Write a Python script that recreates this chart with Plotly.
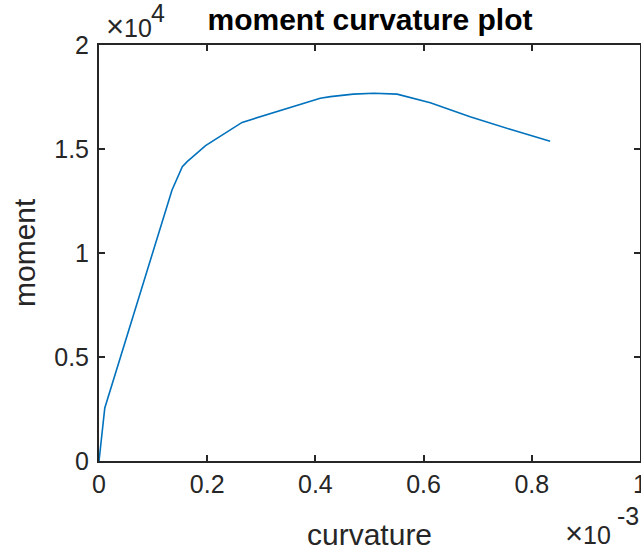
import plotly.graph_objects as go

# data
curvature = [0, 0.0000107, 0.000135, 0.000154, 0.000163, 0.000197, 0.0002645, 0.000409,
             0.000428, 0.00047, 0.000508, 0.000551, 0.0006125, 0.000686, 0.00076, 0.000834]
moment = [0, 2550, 13030, 14150, 14390, 15160, 16280, 17440,
          17520, 17640, 17680, 17640, 17220, 16550, 15950, 15370]

x_tickvals = [0, 0.0002, 0.0004, 0.0006, 0.0008, 0.001]
x_ticktext = ["0", "0.2", "0.4", "0.6", "0.8", "1"]
y_tickvals = [0, 5000, 10000, 15000, 20000]
y_ticktext = ["0", "0.5", "1", "1.5", "2"]

FONT = "Liberation Sans, Arial, Helvetica, sans-serif"
AX = "#262626"

W, H = 641, 550
PX0, PX1, PY0, PY1 = 99, 640, 45, 461
L, R, T, B = PX0, W - PX1, PY0, H - PY1
PW, PH = PX1 - PX0, PY1 - PY0


def px(sx):
    return (sx - PX0) / PW


def py(sy):
    return (PY1 - sy) / PH


fig = go.Figure()
fig.add_trace(go.Scatter(x=curvature, y=moment, mode="lines",
                         line=dict(color="#0072BD", width=1.6), showlegend=False,
                         hoverinfo="skip"))

axis_common = dict(showgrid=False, zeroline=False, showline=True, linecolor=AX, linewidth=2,
                   mirror="ticks", ticks="inside", ticklen=6, tickwidth=2, tickcolor=AX,
                   automargin=False, ticklabeloverflow="allow",
                   tickfont=dict(family=FONT, size=25, color=AX))

fig.update_xaxes(range=[0, 0.0010001], tickvals=x_tickvals, ticktext=x_ticktext, **axis_common)
fig.update_yaxes(range=[0, 20001], tickvals=y_tickvals, ticktext=y_ticktext,
                 ticklabelstandoff=3, **axis_common)


def ann(text, sx, sy, xanchor, size, angle=0, color=AX):
    return dict(text=text, xref="paper", yref="paper", x=px(sx), y=py(sy),
                xanchor=xanchor, yanchor="middle", showarrow=False, textangle=angle,
                font=dict(family=FONT, size=size, color=color))


TIMES = "<span style='font-size:31px'>×</span>10"

fig.update_layout(
    width=W, height=H,
    margin=dict(l=L, r=R, t=T, b=B, autoexpand=False),
    paper_bgcolor="white", plot_bgcolor="white",
    title=dict(text="<b>moment curvature plot</b>", x=370 / W, xanchor="center",
               y=1 - 19 / H, yanchor="middle",
               font=dict(family=FONT, size=30, color="black")),
    annotations=[
        ann("curvature", 369, 534, "center", 30),
        ann("moment", 24, 253, "center", 30, angle=-90),
        ann(TIMES, 104, 27, "left", 25),
        ann("4", 149, 13, "left", 25),
        ann(TIMES, 613, 533, "right", 25),
        ann("-3", 641, 516, "right", 25),
    ],
)

fig.write_html("out.html", config={"displayModeBar": False},
               post_script="document.body.style.margin='0';document.body.style.overflow='hidden';")
